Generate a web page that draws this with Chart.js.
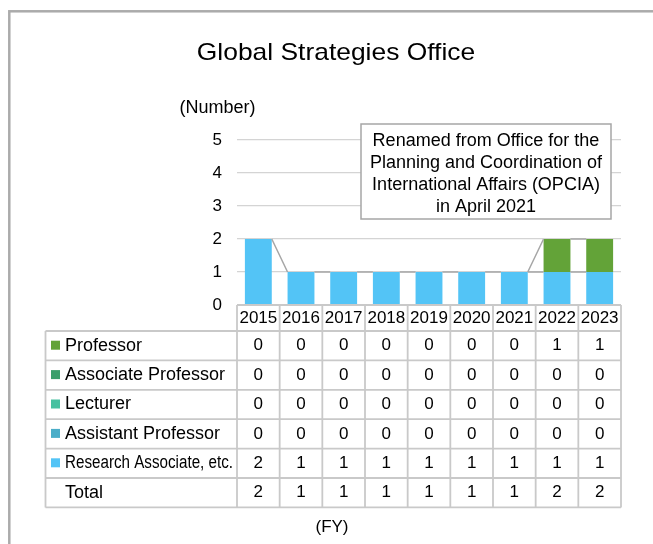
<!DOCTYPE html>
<html>
<head>
<meta charset="utf-8">
<script src="https://cdn.jsdelivr.net/npm/chart.js@4/dist/chart.umd.min.js"></script>
<style>
  html, body { margin: 0; padding: 0; background: #fff; }
  canvas { display: block; }
</style>
</head>
<body>
<canvas id="grafico" width="653" height="544"></canvas>
<script>
// datos
const years = ['2015', '2016', '2017', '2018', '2019', '2020', '2021', '2022', '2023'];
const professor = [0, 0, 0, 0, 0, 0, 0, 1, 1];
const associateProfessor = [0, 0, 0, 0, 0, 0, 0, 0, 0];
const lecturer = [0, 0, 0, 0, 0, 0, 0, 0, 0];
const assistantProfessor = [0, 0, 0, 0, 0, 0, 0, 0, 0];
const researchAssociate = [2, 1, 1, 1, 1, 1, 1, 1, 1];
const yMin = 0, yMax = 5, yStep = 1;
const title = 'Global Strategies Office';
const note = ['Renamed from Office for the', 'Planning and Coordination of', 'International Affairs (OPCIA)', 'in April 2021'];

const totals = years.map((_, i) =>
  professor[i] + associateProfessor[i] + lecturer[i] + assistantProfessor[i] + researchAssociate[i]);

const FONT = '"Liberation Sans", Arial, sans-serif';
const colors = {
  professor: '#63A338',
  associate: '#3A9F6B',
  lecturer: '#47C1A1',
  assistant: '#4BADC8',
  research: '#53C4F6'
};

// filas de la tabla, de arriba hacia abajo
const rows = [
  { label: 'Professor', values: professor, color: colors.professor },
  { label: 'Associate Professor', values: associateProfessor, color: colors.associate },
  { label: 'Lecturer', values: lecturer, color: colors.lecturer },
  { label: 'Assistant Professor', values: assistantProfessor, color: colors.assistant },
  { label: 'Research Associate, etc.', values: researchAssociate, color: colors.research, squeeze: 168 },
  { label: 'Total', values: totals, color: null }
];

// lineas de serie entre barras (como Excel)
const seriesLines = {
  id: 'seriesLines',
  afterDatasetsDraw(chart) {
    const ctx = chart.ctx;
    ctx.save();
    ctx.strokeStyle = '#A6A6A6';
    ctx.lineWidth = 1.5;
    ctx.beginPath();
    chart.data.datasets.forEach((ds, i) => {
      const bars = chart.getDatasetMeta(i).data;
      for (let k = 0; k < bars.length - 1; k++) {
        const a = bars[k], b = bars[k + 1];
        ctx.moveTo(a.x + a.width / 2, a.y);
        ctx.lineTo(b.x - b.width / 2, b.y);
      }
    });
    ctx.stroke();
    ctx.restore();
  }
};

const decor = {
  id: 'decor',
  afterDraw(chart) {
    const { ctx, chartArea } = chart;
    const x = chart.scales.x;
    ctx.save();

    // marco exterior
    ctx.strokeStyle = '#ABABAB';
    ctx.lineWidth = 2.5;
    ctx.strokeRect(9.3, 11.3, 800, 700);

    // titulo
    ctx.fillStyle = '#000';
    ctx.textBaseline = 'middle';
    ctx.textAlign = 'center';
    ctx.save();
    ctx.translate(336, 53);
    ctx.scale(1.1, 1);
    ctx.font = '24px ' + FONT;
    ctx.fillText(title, 0, 0);
    ctx.restore();

    ctx.font = '18px ' + FONT;
    ctx.fillText('(Number)', 217.5, 108.5);
    ctx.font = '17px ' + FONT;
    ctx.fillText('(FY)', 332, 527);

    // tabla de datos
    const colW = x.getPixelForValue(1) - x.getPixelForValue(0);
    const left = x.getPixelForValue(0) - colW / 2;
    const right = x.getPixelForValue(years.length - 1) + colW / 2;
    const top = chartArea.bottom;
    const headH = 26, rowH = 29.4, tableLeft = 45.5;
    const bodyTop = top + headH;
    const bottom = bodyTop + rows.length * rowH;

    ctx.strokeStyle = '#C9C9C9';
    ctx.lineWidth = 1.8;
    ctx.beginPath();
    ctx.moveTo(left, top); ctx.lineTo(right, top);
    for (let r = 0; r <= rows.length; r++) {
      ctx.moveTo(tableLeft, bodyTop + r * rowH);
      ctx.lineTo(right, bodyTop + r * rowH);
    }
    ctx.moveTo(tableLeft, bodyTop); ctx.lineTo(tableLeft, bottom);
    for (let c = 0; c <= years.length; c++) {
      const cx = left + c * colW;
      ctx.moveTo(cx, top); ctx.lineTo(cx, bottom);
    }
    ctx.stroke();

    ctx.fillStyle = '#000';
    ctx.textAlign = 'center';
    ctx.font = '17px ' + FONT;
    years.forEach((y, i) => ctx.fillText(y, x.getPixelForValue(i), top + headH / 2 + 0.5));

    rows.forEach((row, r) => {
      const cy = bodyTop + r * rowH + rowH / 2;
      if (row.color) {
        ctx.fillStyle = row.color;
        ctx.fillRect(51, cy - 5, 9, 9);
      }
      ctx.fillStyle = '#000';
      ctx.textAlign = 'left';
      ctx.font = '18px ' + FONT;
      if (row.squeeze) ctx.fillText(row.label, 65, cy, row.squeeze);
      else ctx.fillText(row.label, 65, cy);
      ctx.textAlign = 'center';
      ctx.font = '17px ' + FONT;
      row.values.forEach((v, i) => ctx.fillText(String(v), x.getPixelForValue(i), cy));
    });

    // cuadro de nota
    ctx.fillStyle = '#fff';
    ctx.fillRect(361, 124, 250, 95);
    ctx.strokeStyle = '#A6A6A6';
    ctx.lineWidth = 1.5;
    ctx.strokeRect(361, 124, 250, 95);
    ctx.fillStyle = '#000';
    ctx.textAlign = 'center';
    ctx.font = '18px ' + FONT;
    note.forEach((t, i) => ctx.fillText(t, 486, 141.5 + i * 21.8));

    ctx.restore();
  }
};

const barDs = (label, data, color) => ({
  label, data, backgroundColor: color, borderWidth: 0,
  barPercentage: 0.63, categoryPercentage: 1
});

new Chart(document.getElementById('grafico'), {
  type: 'bar',
  data: {
    labels: years,
    datasets: [
      barDs('Research Associate, etc.', researchAssociate, colors.research),
      barDs('Assistant Professor', assistantProfessor, colors.assistant),
      barDs('Lecturer', lecturer, colors.lecturer),
      barDs('Associate Professor', associateProfessor, colors.associate),
      barDs('Professor', professor, colors.professor)
    ]
  },
  options: {
    responsive: false,
    animation: false,
    devicePixelRatio: 1,
    layout: { padding: { left: 207, right: 32, top: 140, bottom: 239 } },
    plugins: { legend: { display: false }, tooltip: { enabled: false }, title: { display: false } },
    scales: {
      x: { stacked: true, display: false },
      y: {
        stacked: true,
        min: yMin, max: yMax,
        afterFit: (s) => { s.width = 30; },
        border: { display: false },
        grid: { color: '#D4D4D4', lineWidth: 1.3, drawTicks: false },
        ticks: { stepSize: yStep, padding: 15, color: '#000', font: { family: FONT, size: 17 } }
      }
    }
  },
  plugins: [seriesLines, decor]
});
</script>
</body>
</html>
